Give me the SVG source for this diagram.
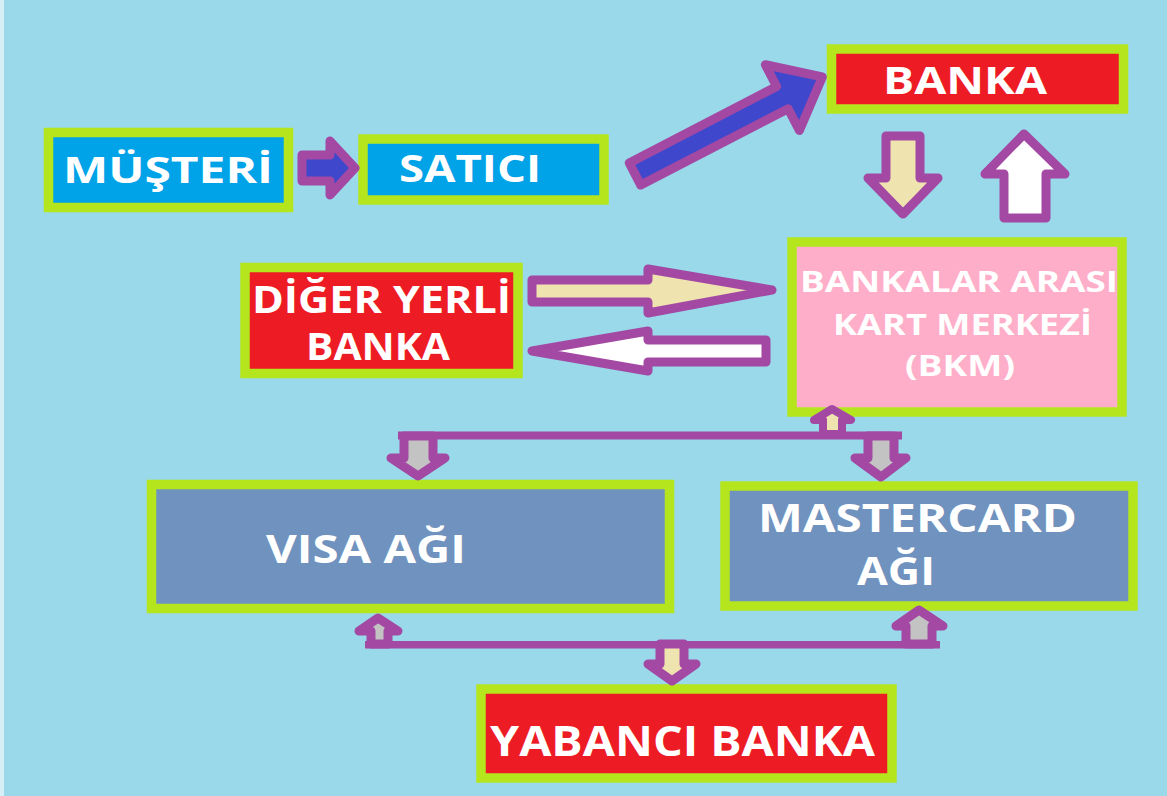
<svg xmlns="http://www.w3.org/2000/svg" width="1167" height="796" viewBox="0 0 1167 796">
<style>
.frame{stroke:#B5E61D;stroke-width:9.5}
.t{fill:#FFFFFF;font-family:"Open Sans","DejaVu Sans",sans-serif;font-weight:700}
.ar{stroke:#A349A4;stroke-width:9;stroke-linejoin:round}
.sa{stroke:#A349A4;stroke-width:9;stroke-linejoin:round}
.sm{stroke:#A349A4;stroke-width:8;stroke-linejoin:round}
.bar{fill:#A349A4}
</style>
<rect x="0" y="0" width="1167" height="796" fill="#99D9EA"/>
<rect x="0" y="0" width="4" height="796" fill="#D6EEF5"/>

<g id="node-musteri">
  <rect class="frame" x="48.5" y="132.5" width="240" height="75" fill="#00A2E8"/>
  <text class="t" x="63" y="183" font-size="36" textLength="210" lengthAdjust="spacingAndGlyphs">MÜŞTERİ</text>
</g>
<g id="node-satici">
  <rect class="frame" x="363" y="139" width="241" height="61" fill="#00A2E8"/>
  <text class="t" x="399" y="182" font-size="37" textLength="142" lengthAdjust="spacingAndGlyphs">SATICI</text>
</g>
<g id="node-banka">
  <rect class="frame" x="831.5" y="49" width="292" height="60" fill="#ED1C24"/>
  <text class="t" x="883" y="94" font-size="37" textLength="164" lengthAdjust="spacingAndGlyphs">BANKA</text>
</g>
<g id="node-bkm">
  <rect class="frame" x="792" y="242" width="330" height="170" fill="#FFAEC9"/>
  <text class="t" x="800" y="292" font-size="28.5" textLength="318" lengthAdjust="spacingAndGlyphs">BANKALAR ARASI</text>
  <text class="t" x="833" y="335" font-size="28.5" textLength="259" lengthAdjust="spacingAndGlyphs">KART MERKEZİ</text>
  <text class="t" x="905" y="376" font-size="28.5" textLength="110" lengthAdjust="spacingAndGlyphs">(BKM)</text>
</g>
<g id="node-diger">
  <rect class="frame" x="245" y="267.5" width="273" height="106" fill="#ED1C24"/>
  <text class="t" x="252" y="313" font-size="38" textLength="259" lengthAdjust="spacingAndGlyphs">DİĞER YERLİ</text>
  <text class="t" x="306" y="360" font-size="38" textLength="144" lengthAdjust="spacingAndGlyphs">BANKA</text>
</g>
<g id="node-visa">
  <rect class="frame" x="151.5" y="484.5" width="518" height="124" fill="#7092BE"/>
  <text class="t" x="266" y="563" font-size="39" textLength="200" lengthAdjust="spacingAndGlyphs">VISA AĞI</text>
</g>
<g id="node-mastercard">
  <rect class="frame" x="725" y="486" width="408" height="120" fill="#7092BE"/>
  <text class="t" x="758" y="532" font-size="40" textLength="319" lengthAdjust="spacingAndGlyphs">MASTERCARD</text>
  <text class="t" x="857" y="585" font-size="40" textLength="78" lengthAdjust="spacingAndGlyphs">AĞI</text>
</g>
<g id="node-yabanci">
  <rect class="frame" x="481" y="689" width="411" height="89" fill="#ED1C24"/>
  <text class="t" x="490" y="756" font-size="42" textLength="385" lengthAdjust="spacingAndGlyphs">YABANCI BANKA</text>
</g>

<g id="connectors">
  <!-- MUSTERI -> SATICI -->
  <polygon class="ar" fill="#3F48CC" points="302,155 330,155 330,141 355,168 330,195 330,181 302,181"/>
  <!-- SATICI -> BANKA -->
  <polygon class="ar" fill="#3F48CC" transform="translate(635,174) rotate(-27.4)" points="0,-12.5 166,-12.5 166,-37 211,0 166,37 166,12.5 0,12.5"/>
  <!-- BANKA -> BKM -->
  <polygon class="ar" fill="#EFE4B0" points="886,136 920,136 920,178 938,178 903,214 868,178 886,178"/>
  <!-- BKM -> BANKA -->
  <polygon class="ar" fill="#FFFFFF" points="1024,134 1065,174 1046,174 1046,218 1004,218 1004,174 985,174"/>
  <!-- DIGER -> BKM -->
  <polygon class="ar" fill="#EFE4B0" points="532,280 648,280 648,269 772,290 648,313 648,302 532,302"/>
  <!-- BKM -> DIGER -->
  <polygon class="ar" fill="#FFFFFF" points="532,351 648,331 648,340 766,340 766,362 648,362 648,371"/>
  <!-- BKM <-> networks -->
  <rect class="bar" x="398" y="431.5" width="504" height="8"/>
  <polygon class="sm" fill="#EFE4B0" points="832,409 851,420 842,420 842,434 823,434 823,420 814,420"/>
  <polygon class="sa" fill="#C3C3C3" points="404,436 433,436 433,458 445,458 418,476 391,458 404,458"/>
  <polygon class="sa" fill="#C3C3C3" points="868,436 894,436 894,458 906,458 881,477 855,458 868,458"/>
  <!-- networks <-> YABANCI -->
  <rect class="bar" x="365" y="641" width="575" height="7.5"/>
  <polygon class="sa" fill="#C3C3C3" points="378,618 398,631 388,631 388,644 371,644 371,631 359,631"/>
  <polygon class="sa" fill="#C3C3C3" points="919,610 943,626 932,626 932,644 906,644 906,626 896,626"/>
  <polygon class="sa" fill="#EFE4B0" points="660,644 684,644 684,664 696,664 672,681 648,664 660,664"/>
</g>
</svg>
